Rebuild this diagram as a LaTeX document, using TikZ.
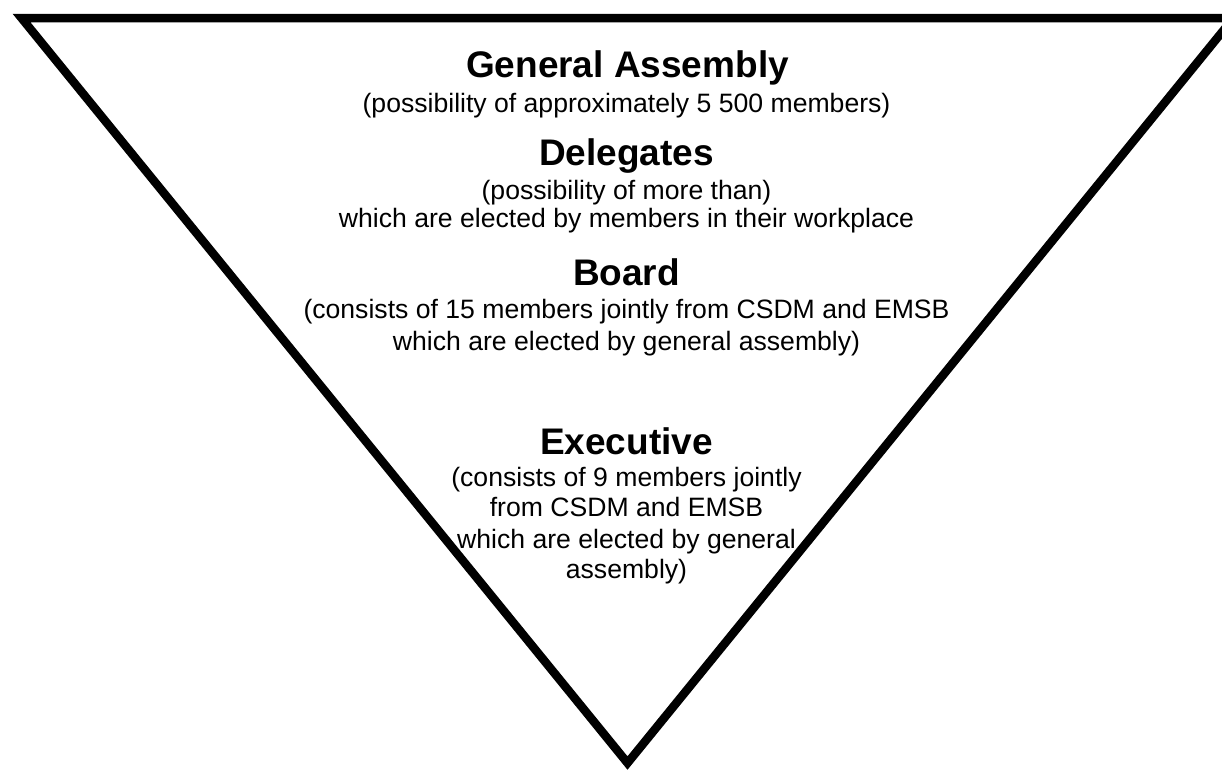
\documentclass[tikz,border=0pt]{standalone}
\usepackage{fontspec}
\setmainfont{Liberation Sans}
\begin{document}
\begin{tikzpicture}[x=1pt,y=-1pt,
  titletext/.style={font=\fontsize{37}{44}\selectfont\bfseries, anchor=base, inner sep=0pt},
  subtext/.style={font=\fontsize{26.6}{30}\selectfont, anchor=base, inner sep=0pt},
  frame/.style={line width=8.5pt, line join=miter}]
\useasboundingbox (0,0) rectangle (1222,772);
\clip (0,0) rectangle (1222,772);
\coordinate (L) at (21.5,18);
\coordinate (R) at (1233.5,18);
\coordinate (A) at (627.5,763);
\draw[frame] (L) -- (R) -- (A) -- cycle;

\node[titletext] (ga) at (627.5,77) {General Assembly};
\node[subtext] (ga1) at (626.5,112.5) {(possibility of approximately 5 500 members)};

\node[titletext] (del) at (626.5,165) {Delegates};
\node[subtext] (del1) at (626.5,199.5) {(possibility of more than)};
\node[subtext] (del2) at (626.5,227) {which are elected by members in their workplace};

\node[titletext] (bd) at (626.5,285.5) {Board};
\node[subtext] (bd1) at (626.5,318.5) {(consists of 15 members jointly from CSDM and EMSB};
\node[subtext] (bd2) at (626.5,350.5) {which are elected by general assembly)};

\node[titletext] (ex) at (626.5,454.3) {Executive};
\node[subtext] (ex1) at (626.5,486.7) {(consists of 9 members jointly};
\node[subtext] (ex2) at (626.5,516.7) {from CSDM and EMSB};
\node[subtext] (ex3) at (626.5,548) {which are elected by general};
\node[subtext] (ex4) at (626.5,578) {assembly)};
\end{tikzpicture}
\end{document}
